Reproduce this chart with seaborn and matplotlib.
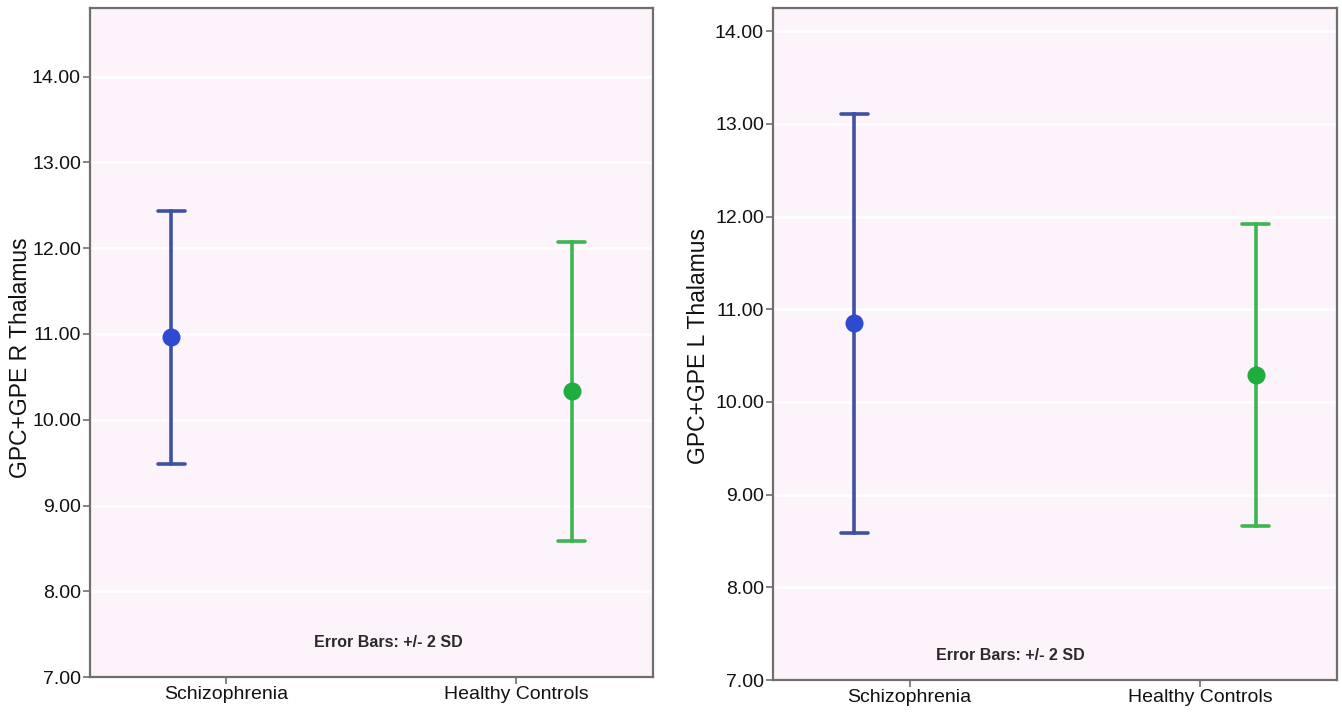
import numpy as np
import pandas as pd
import seaborn as sns
import matplotlib.pyplot as plt

# groups on the x axis
groups = ['Schizophrenia', 'Healthy Controls']
line_colors = ['#3f51a3', '#3cb651']
dot_colors = ['#2c4bd2', '#1fae3e']

# mean and 2*SD per group
r_thal_mean = [10.96, 10.33]
r_thal_2sd = [1.47, 1.74]
l_thal_mean = [10.85, 10.29]
l_thal_2sd = [2.26, 1.63]

ylabels = ['GPC+GPE R Thalamus', 'GPC+GPE L Thalamus']
yticks = [7, 8, 9, 10, 11, 12, 13, 14]


def make_frame(means, sds):
    # three rows per group: mean-2sd, mean, mean+2sd -> estimator gives mean, errorbar gives range
    rows = []
    for g, m, s in zip(groups, means, sds):
        for v in (m - s, m, m + s):
            rows.append({'group': g, 'value': v})
    return pd.DataFrame(rows)


sns.set_theme(style='whitegrid', rc={
    'axes.facecolor': '#fdf3fa',
    'grid.color': 'white',
    'grid.linewidth': 2.0,
    'axes.edgecolor': '#6f6f6f',
    'axes.linewidth': 1.6,
})
narrow = ['Liberation Sans Narrow', 'Liberation Sans', 'DejaVu Sans']
plt.rcParams['font.family'] = ['Liberation Sans', 'DejaVu Sans']

fig = plt.figure(figsize=(13.42, 7.25), dpi=100)
ax_l = fig.add_axes([0.067, 0.066, 0.4195, 0.923])
ax_r = fig.add_axes([0.576, 0.062, 0.4203, 0.927])

setups = [
    (ax_l, make_frame(r_thal_mean, r_thal_2sd), ylabels[0], 14.8, (0.53, 0.052), (-0.103, 0.478)),
    (ax_r, make_frame(l_thal_mean, l_thal_2sd), ylabels[1], 14.25, (0.42, 0.036), (-0.112, 0.497)),
]

for ax, df, ylab, ytop, note_xy, lab_xy in setups:
    sns.pointplot(data=df, x='group', y='value', hue='group', order=groups, hue_order=groups,
                  palette=line_colors, estimator='mean',
                  errorbar=lambda v: (v.min(), v.max()),
                  dodge=0.38, capsize=0.094, linestyles='none', markers='o',
                  markersize=13, markeredgewidth=0,
                  err_kws={'linewidth': 2.6}, legend=False, ax=ax)
    # marker face brighter than the bar, and drawn on top of it
    pts = [ln for ln in ax.lines if ln.get_marker() == 'o']
    for ln, c in zip(pts, dot_colors):
        ln.set_markerfacecolor(c)
        ln.set_zorder(4)

    ax.set_xlim(-0.47, 1.47)
    ax.set_ylim(7, ytop)
    ax.set_yticks(yticks)
    ax.set_yticklabels([f'{t:.2f}' for t in yticks], family=narrow, fontsize=14)
    ax.set_xticks(range(len(groups)))
    ax.set_xticklabels(groups, family=narrow, fontsize=14)
    ax.grid(axis='x', visible=False)
    ax.grid(axis='y', visible=True)
    ax.tick_params(axis='both', direction='out', length=5, width=1.2, color='#6f6f6f',
                   pad=1.5, labelcolor='#111111', left=True, bottom=True)
    ax.set_xlabel('')
    ax.set_ylabel(ylab, fontsize=16.5, color='#111111')
    ax.yaxis.set_label_coords(*lab_xy)
    for sp in ax.spines.values():
        sp.set_visible(True)
        sp.set_color('#6f6f6f')
    ax.text(note_xy[0], note_xy[1], 'Error Bars: +/- 2 SD', transform=ax.transAxes,
            ha='center', va='center', family=narrow, fontsize=11.5, fontweight='bold',
            color='#2a2a2a')

fig.savefig('out.png', dpi=100)
